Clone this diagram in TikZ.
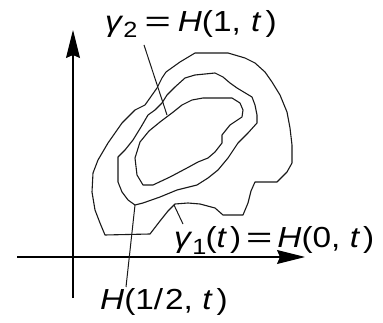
\documentclass[tikz,border=0pt]{standalone}
\usepackage{fontspec}
\setmainfont{Liberation Sans}[FakeStretch=1.15]
\usepackage{graphicx}
\usetikzlibrary{arrows.meta}
\newcommand{\lowsub}[1]{\raisebox{-6pt}{\fontsize{22}{22}\selectfont #1}}
\newcommand{\wideeq}{\scalebox{1.35}[1]{=}}
\begin{document}
\begin{tikzpicture}[x=1pt,y=-1pt,
  curve/.style={line width=1.1pt, line join=round, black!90},
  axis/.style={line width=1.1pt, -{Stealth[length=28pt,width=14pt,inset=3pt]}},
  leader/.style={line width=1pt, black!90},
  lbl/.style={inner sep=0pt, font=\fontsize{29}{31}\selectfont, anchor=base west}]
\useasboundingbox (0,0) rectangle (383,323);
% axes
\coordinate (yb) at (73,298);
\coordinate (yt) at (73,30);
\coordinate (xl) at (17,257);
\coordinate (xr) at (305,257);
\draw[axis] (yb) -- (yt);
\draw[axis] (xl) -- (xr);
% outer curve gamma_1
\draw[curve] (108,143) -- (122,123) -- (135,110) -- (145,105) -- (157,88) -- (162,78) -- (166,72)
  -- (180,62) -- (195,53) -- (228,53) -- (245,58) -- (255,63) -- (265,72) -- (272,82) -- (280,95)
  -- (287,112) -- (290,128) -- (292,145) -- (292,163) -- (287,172) -- (277,182) -- (255,182)
  -- (251,191) -- (248,203) -- (243,215) -- (223,215) -- (215,208) -- (200,204) -- (188,203)
  -- (175,204) -- (168,211) -- (160,221) -- (150,234) -- (105,235) -- (100,223) -- (95,210)
  -- (92,192) -- (93,173) -- (98,160) -- cycle;
% middle curve H(1/2,t)
\draw[curve] (195,75) -- (215,73) -- (223,77) -- (230,83) -- (237,88) -- (252,97) -- (255,105)
  -- (257,115) -- (257,123) -- (248,133) -- (238,143) -- (228,158) -- (218,170) -- (208,178)
  -- (197,185) -- (177,190) -- (160,197) -- (143,203) -- (135,205) -- (128,200) -- (122,192)
  -- (118,182) -- (118,157) -- (125,150) -- (133,140) -- (141,127) -- (148,115) -- (155,110)
  -- (162,103) -- (167,95) -- (175,87) -- (185,78) -- cycle;
% inner curve gamma_2
\draw[curve] (140,142) -- (149,131) -- (160,122) -- (172,113) -- (182,105) -- (192,100)
  -- (203,98) -- (232,98) -- (240,103) -- (243,110) -- (242,117) -- (230,125) -- (222,135)
  -- (222,143) -- (215,152) -- (208,158) -- (198,162) -- (187,168) -- (170,177) -- (153,185)
  -- (143,185) -- (137,175) -- (135,158) -- cycle;
% points on curves
\coordinate (p2) at (167,115);
\coordinate (ph) at (135,205);
\coordinate (p1) at (174,205);
% labels
\node[lbl] (lg2) at (105,32) {\textit{γ}\lowsub{2}\kern7pt\wideeq\kern7pt\textit{H}(1, \kern1pt\textit{t}\kern4pt)};
\node[lbl] (lg1) at (174,248) {\textit{γ}\lowsub{1}\kern-1pt(\textit{t}\kern3pt)\kern5pt\wideeq\kern5pt\textit{H}(0, \textit{t}\kern3pt)};
\node[lbl] (lh) at (100,309) {\textit{H}(1/\kern2pt2, \textit{t}\kern4pt)};
% leader ends
\coordinate (e2) at (144,45);
\coordinate (eh) at (126,287);
\coordinate (e1) at (183,224);
\draw[leader] (e2) -- (p2);
\draw[leader] (ph) -- (eh);
\draw[leader] (p1) -- (e1);
\end{tikzpicture}
\end{document}
